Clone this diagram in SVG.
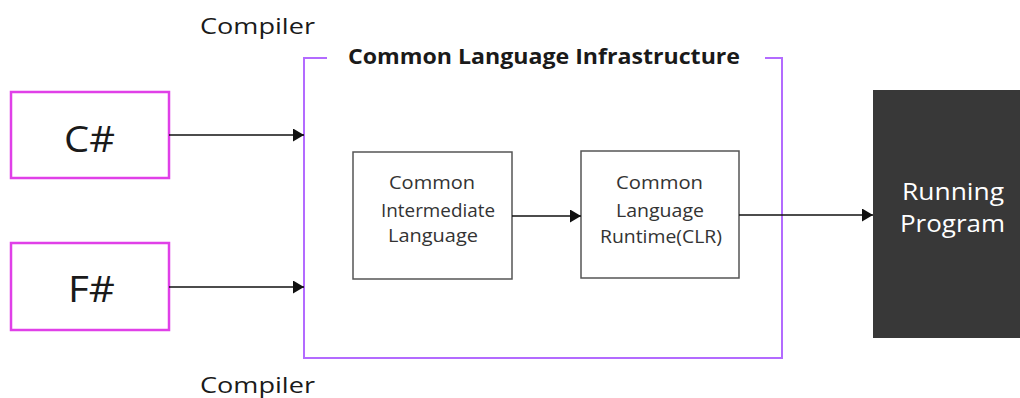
<svg xmlns="http://www.w3.org/2000/svg" width="1020" height="398" viewBox="0 0 1020 398">
<style>
text{font-family:"Open Sans","Liberation Sans",sans-serif;fill:#1a1a1a;font-weight:500}
.lang{fill:#fff;stroke:#e040e8;stroke-width:2.5}
.inner{fill:#fff;stroke:#555;stroke-width:1.5}
.cli{fill:none;stroke:#b36bff;stroke-width:2}
.conn{stroke:#111;stroke-width:1.6;fill:none;marker-end:url(#ah)}
.title{font-size:20.5px;font-weight:700}
.big{font-size:37px}
.mid{font-size:17.5px;fill:#333}
.run{font-size:24px;fill:#fff}
.comp{font-size:22.5px}
</style>
<defs>
<marker id="ah" viewBox="0 0 11 13" refX="11" refY="6.5" markerWidth="11" markerHeight="13" markerUnits="userSpaceOnUse" orient="auto">
<path d="M0,0 L11,6.5 L0,13 z" fill="#111"/>
</marker>
</defs>
<rect width="1020" height="398" fill="#fff"/>
<g id="labels">
<text class="comp" x="200" y="34" textLength="115" lengthAdjust="spacingAndGlyphs">Compiler</text>
<text class="comp" x="200" y="393" textLength="115" lengthAdjust="spacingAndGlyphs">Compiler</text>
</g>
<g id="cli">
<path class="cli" d="M327,58 H304 V358 H782 V58 H765"/>
<text class="title" x="348" y="64" textLength="392" lengthAdjust="spacingAndGlyphs">Common Language Infrastructure</text>
</g>
<g id="csharp">
<rect class="lang" x="11" y="92" width="158" height="86"/>
<text class="big" x="64" y="152" textLength="51" lengthAdjust="spacingAndGlyphs">C#</text>
</g>
<g id="fsharp">
<rect class="lang" x="11" y="243" width="158" height="87"/>
<text class="big" x="68" y="302" textLength="47" lengthAdjust="spacingAndGlyphs">F#</text>
</g>
<g id="cil">
<rect class="inner" x="353" y="152" width="159" height="127"/>
<text class="mid" x="389" y="189" textLength="86" lengthAdjust="spacingAndGlyphs">Common</text>
<text class="mid" x="381" y="217" textLength="114" lengthAdjust="spacingAndGlyphs">Intermediate</text>
<text class="mid" x="388" y="242" textLength="90" lengthAdjust="spacingAndGlyphs">Language</text>
</g>
<g id="clr">
<rect class="inner" x="581" y="151" width="158" height="127"/>
<text class="mid" x="616" y="189" textLength="87" lengthAdjust="spacingAndGlyphs">Common</text>
<text class="mid" x="616" y="217" textLength="88" lengthAdjust="spacingAndGlyphs">Language</text>
<text class="mid" x="600" y="243" textLength="122" lengthAdjust="spacingAndGlyphs">Runtime(CLR)</text>
</g>
<g id="running">
<rect x="873" y="90" width="147" height="248" fill="#383838"/>
<text class="run" x="902" y="200" textLength="102" lengthAdjust="spacingAndGlyphs">Running</text>
<text class="run" x="900" y="232" textLength="105" lengthAdjust="spacingAndGlyphs">Program</text>
</g>
<g id="connectors">
<line class="conn" x1="169" y1="135" x2="304" y2="135"/>
<line class="conn" x1="169" y1="287" x2="304" y2="287"/>
<line class="conn" x1="512" y1="216" x2="581" y2="216"/>
<line class="conn" x1="739" y1="215" x2="873" y2="215"/>
</g>
</svg>
